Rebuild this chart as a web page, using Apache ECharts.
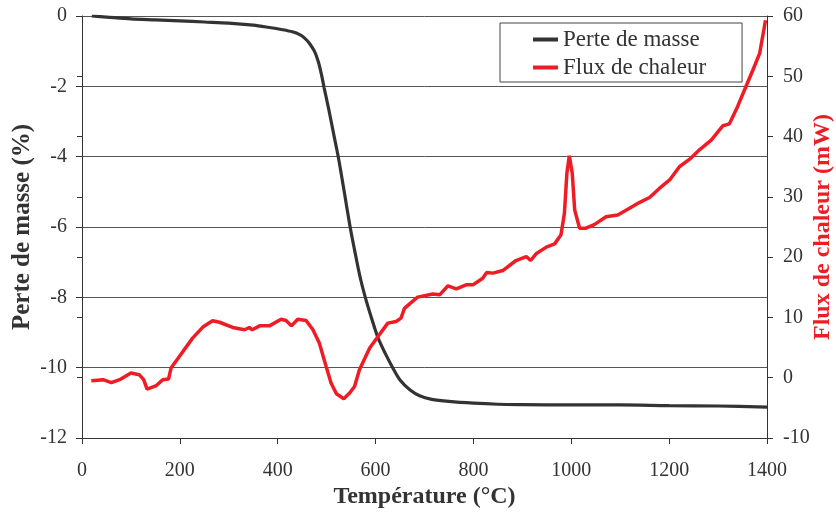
<!DOCTYPE html>
<html>
<head>
<meta charset="utf-8">
<script src="https://cdn.jsdelivr.net/npm/echarts@6/dist/echarts.min.js"></script>
<style>
html,body{margin:0;padding:0;background:#fff;}
#chart{width:836px;height:514px;}
</style>
</head>
<body>
<div id="chart"></div>
<script>
// Temperature (°C) / mass loss (%)
var massTemp = [20,50,100,150,200,250,300,350,380,410,430,445,455,465,475,483,490,495,505,515,525,536,548,557,568,580,592,605,620,635,650,670,690,715,750,800,850,900,1000,1100,1200,1300,1400];
var massLoss = [0,-0.03,-0.08,-0.11,-0.14,-0.17,-0.2,-0.26,-0.32,-0.39,-0.45,-0.53,-0.63,-0.78,-1.0,-1.3,-1.7,-2.05,-2.7,-3.4,-4.1,-5.0,-6.0,-6.65,-7.4,-8.05,-8.6,-9.15,-9.6,-10.0,-10.35,-10.63,-10.8,-10.9,-10.96,-11.01,-11.04,-11.05,-11.06,-11.06,-11.08,-11.09,-11.12];

// Temperature (°C) / heat flow (mW)
var heatTemp = [19,43,60,77,100,117,126,133,152,165,177,182,199,226,247,267,281,308,332,342,348,363,383,407,417,428,441,458,472,485,499,509,520,535,547,557,567,588,605,625,642,652,659,669,686,717,731,748,765,785,799,819,827,840,860,887,908,917,928,949,966,979,986,991,996,1002,1007,1017,1030,1047,1071,1095,1119,1139,1160,1180,1201,1221,1242,1262,1286,1310,1323,1340,1357,1371,1385,1397];
var heatFlow = [-0.5,-0.33,-0.8,-0.33,0.77,0.5,-0.33,-1.88,-1.3,-0.33,-0.2,1.6,3.53,6.57,8.4,9.45,9.2,8.33,7.95,8.33,7.95,8.6,8.6,9.7,9.5,8.6,9.7,9.5,7.95,5.75,1.87,-0.88,-2.66,-3.49,-2.54,-1.45,1.32,4.92,6.84,9.06,9.33,9.89,11.5,12.2,13.37,13.9,13.75,15.25,14.75,15.4,15.4,16.5,17.45,17.35,17.78,19.44,20.1,19.44,20.55,21.66,22.2,23.7,27.3,33.9,36.8,33.9,27.8,24.8,24.8,25.4,26.7,27.0,28.1,29.05,29.9,31.4,32.8,35.0,36.25,37.8,39.4,41.8,42.1,45.0,48.3,51.0,53.8,59.3];

var xTicks = {min:0, max:1400, interval:200};
var leftTicks = {min:-12, max:0, interval:2};
var rightTicks = {min:-10, max:60, interval:10};

function zip(a,b){ return a.map(function(v,i){return [v,b[i]];}); }
function plain(v){ return String(v); }

var FONT = 'Liberation Serif';
var chart = echarts.init(document.getElementById('chart'), null, {renderer:'canvas'});
chart.setOption({
  animation:false,
  backgroundColor:'#fff',
  textStyle:{fontFamily:FONT},
  grid:{left:82, right:69, top:16, bottom:76, containLabel:false, outerBoundsMode:'none'},
  legend:{
    orient:'vertical', left:500, top:23,
    padding:[5,36,3,33],
    backgroundColor:'#fff', borderColor:'#444', borderWidth:1,
    itemWidth:25, itemHeight:4, itemGap:5, itemTextGap:4,
    icon:'rect',
    textStyle:{fontFamily:FONT, fontSize:23, color:'#333'},
    data:['Perte de masse','Flux de chaleur']
  },
  xAxis:{
    type:'value', min:xTicks.min, max:xTicks.max, interval:xTicks.interval,
    name:'Température (°C)', nameLocation:'middle', nameGap:47, nameMoveOverlap:false,
    nameTextStyle:{fontFamily:FONT, fontSize:24, fontWeight:'bold', color:'#333'},
    axisLine:{onZero:false, lineStyle:{color:'#333', width:1}},
    axisTick:{show:true, length:6, lineStyle:{color:'#333'}},
    axisLabel:{fontFamily:FONT, fontSize:20, color:'#333', margin:23, formatter:plain},
    splitLine:{show:false}
  },
  yAxis:[{
    type:'value', position:'left', min:leftTicks.min, max:leftTicks.max, interval:leftTicks.interval,
    name:'Perte de masse (%)', nameLocation:'middle', nameGap:47, nameMoveOverlap:false,
    nameTextStyle:{fontFamily:FONT, fontSize:25, fontWeight:'bold', color:'#333'},
    axisLine:{show:true, onZero:false, lineStyle:{color:'#333', width:1}},
    axisTick:{show:true, length:6, lineStyle:{color:'#333'}},
    axisLabel:{fontFamily:FONT, fontSize:20, color:'#333', margin:15, formatter:plain},
    splitLine:{show:true, lineStyle:{color:'#555', width:1}}
  },{
    type:'value', position:'right', min:rightTicks.min, max:rightTicks.max, interval:rightTicks.interval,
    name:'Flux de chaleur (mW)', nameLocation:'middle', nameGap:44, nameRotate:90, nameMoveOverlap:false,
    nameTextStyle:{fontFamily:FONT, fontSize:24, fontWeight:'bold', color:'#ee1c25'},
    axisLine:{show:true, onZero:false, lineStyle:{color:'#333', width:1}},
    axisTick:{show:true, length:6, lineStyle:{color:'#333'}},
    axisLabel:{fontFamily:FONT, fontSize:20, color:'#333', margin:16, formatter:plain},
    splitLine:{show:false}
  },{
    type:'value', position:'right', min:rightTicks.min, max:rightTicks.max, interval:rightTicks.interval,
    axisLine:{show:false}, axisLabel:{show:false}, splitLine:{show:false},
    axisTick:{show:true, inside:true, length:5, lineStyle:{color:'#333'}}
  }],
  series:[{
    name:'Perte de masse', type:'line', yAxisIndex:0, showSymbol:false, smooth:0.3,
    data:zip(massTemp, massLoss),
    itemStyle:{color:'#333'},
    lineStyle:{color:'#333', width:3.2}
  },{
    name:'Flux de chaleur', type:'line', yAxisIndex:1, showSymbol:false,
    data:zip(heatTemp, heatFlow),
    itemStyle:{color:'#ee1c25'},
    lineStyle:{color:'#ee1c25', width:3.5}
  }]
});
</script>
</body>
</html>
